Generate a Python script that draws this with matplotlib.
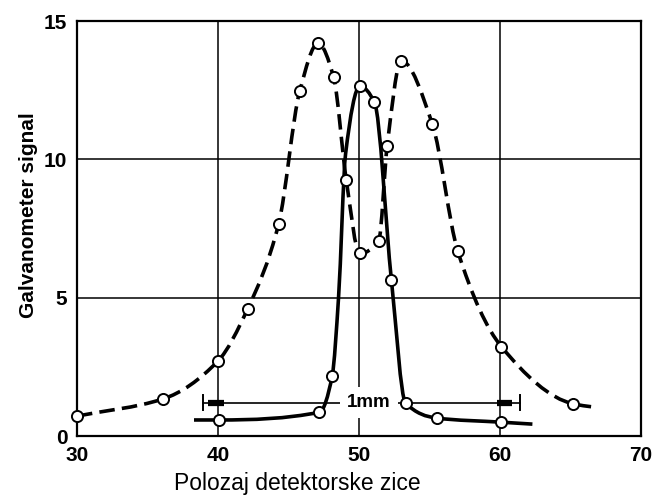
import numpy as np
import matplotlib
matplotlib.use("Agg")
import matplotlib.pyplot as plt
from matplotlib.path import Path
from matplotlib.patches import PathPatch
from matplotlib import font_manager

# dashed curve (open circles); the last point is the unmarked end of the line
dash_x = [30.0, 36.1, 40.0, 42.1, 44.3, 45.8, 47.1, 48.2, 49.1, 50.05,
          51.4, 52.0, 53.0, 55.2, 57.0, 60.1, 65.2, 66.6]
dash_y = [0.72, 1.34, 2.71, 4.59, 7.66, 12.47, 14.2, 12.97, 9.25, 6.6,
          7.06, 10.49, 13.56, 11.28, 6.69, 3.23, 1.16, 1.05]
dash_marks = list(range(17))

# solid curve; unmarked entries are line vertices
solid_x = [38.3, 40.1, 47.2, 48.1, 48.55, 49.05, 50.07, 51.1, 52.3, 53.3, 55.5, 60.1, 62.3]
solid_y = [0.58, 0.58, 0.86, 2.17, 5.0, 10.2, 12.65, 12.06, 5.64, 1.2, 0.65, 0.5, 0.43]
solid_marks = [1, 2, 3, 6, 7, 8, 9, 10, 11]

x_ticks = [30, 40, 50, 60, 70]
y_ticks = [0, 5, 10, 15]

# "1mm" dimension line
dim_y = 1.2
dim_left, dim_right = 38.95, 61.4
dim_label = "1mm"

names = {f.name for f in font_manager.fontManager.ttflist}
narrow = "Liberation Sans Narrow" if "Liberation Sans Narrow" in names else "Liberation Sans"


def pchip_slopes(x, y):
    x = np.asarray(x, float)
    y = np.asarray(y, float)
    h = np.diff(x)
    d = np.diff(y) / h
    m = np.zeros_like(x)
    m[0], m[-1] = d[0], d[-1]
    for k in range(1, len(x) - 1):
        if d[k - 1] * d[k] > 0:
            w1 = 2 * h[k] + h[k - 1]
            w2 = h[k] + 2 * h[k - 1]
            m[k] = (w1 + w2) / (w1 / d[k - 1] + w2 / d[k])
    return m


def smooth_path(x, y):
    # cubic bezier segments through the points (monotone hermite tangents)
    m = pchip_slopes(x, y)
    verts = [(x[0], y[0])]
    codes = [Path.MOVETO]
    for k in range(len(x) - 1):
        h = x[k + 1] - x[k]
        verts += [(x[k] + h / 3, y[k] + m[k] * h / 3),
                  (x[k + 1] - h / 3, y[k + 1] - m[k + 1] * h / 3),
                  (x[k + 1], y[k + 1])]
        codes += [Path.CURVE4] * 3
    return Path(verts, codes)


fig = plt.figure(figsize=(6.54, 4.97), dpi=100)
ax = fig.add_axes([0.1177, 0.1227, 0.8624, 0.835])

ax.set_xlim(30, 70)
ax.set_ylim(0, 15)
ax.set_xticks(x_ticks)
ax.set_yticks(y_ticks)
ax.grid(True, color="black", linewidth=1.1)
for s in ax.spines.values():
    s.set_linewidth(1.6)
ax.tick_params(length=0, pad=7)
for lab in ax.get_xticklabels() + ax.get_yticklabels():
    lab.set_fontfamily(narrow)
    lab.set_fontweight("bold")
    lab.set_fontsize(15)

# dimension line
ax.plot([dim_left, dim_right], [dim_y, dim_y], color="black", lw=1.2, zorder=3)
ax.plot([dim_left, dim_left], [dim_y - 0.27, dim_y + 0.27], color="black", lw=1.4, zorder=3)
ax.plot([dim_right, dim_right], [dim_y - 0.27, dim_y + 0.27], color="black", lw=1.4, zorder=3)
ax.plot([39.3, 40.4], [dim_y, dim_y], color="black", lw=4.5, solid_capstyle="butt", zorder=3)
ax.plot([59.8, 60.85], [dim_y, dim_y], color="black", lw=4.5, solid_capstyle="butt", zorder=3)
ax.text(50.7, dim_y, dim_label, ha="center", va="center", fontsize=13.5,
        family=narrow, fontweight="bold", zorder=4,
        bbox=dict(facecolor="white", edgecolor="none", pad=5))

ax.add_patch(PathPatch(smooth_path(dash_x, dash_y), fill=False, color="black",
                       lw=2.6, linestyle=(0, (4.3, 2.0)), zorder=5))
ax.add_patch(PathPatch(smooth_path(solid_x, solid_y), fill=False, color="black",
                       lw=2.6, zorder=5))

ax.plot(dash_x, dash_y, linestyle="none", marker="o", markevery=dash_marks,
        ms=8, mfc="white", mec="black", mew=1.4, clip_on=False, zorder=6)
ax.plot(solid_x, solid_y, linestyle="none", marker="o", markevery=solid_marks,
        ms=8, mfc="white", mec="black", mew=1.4, clip_on=False, zorder=6)

fig.text(0.044, 0.567, "Galvanometer signal", rotation=90, ha="center", va="center",
         fontsize=15, fontweight="bold", family="Liberation Sans")
fig.text(0.454, 0.028, "Polozaj detektorske zice", ha="center", va="center",
         fontsize=20 if narrow != "Liberation Sans" else 16.5, family=narrow)

fig.savefig("out.png", dpi=100)
